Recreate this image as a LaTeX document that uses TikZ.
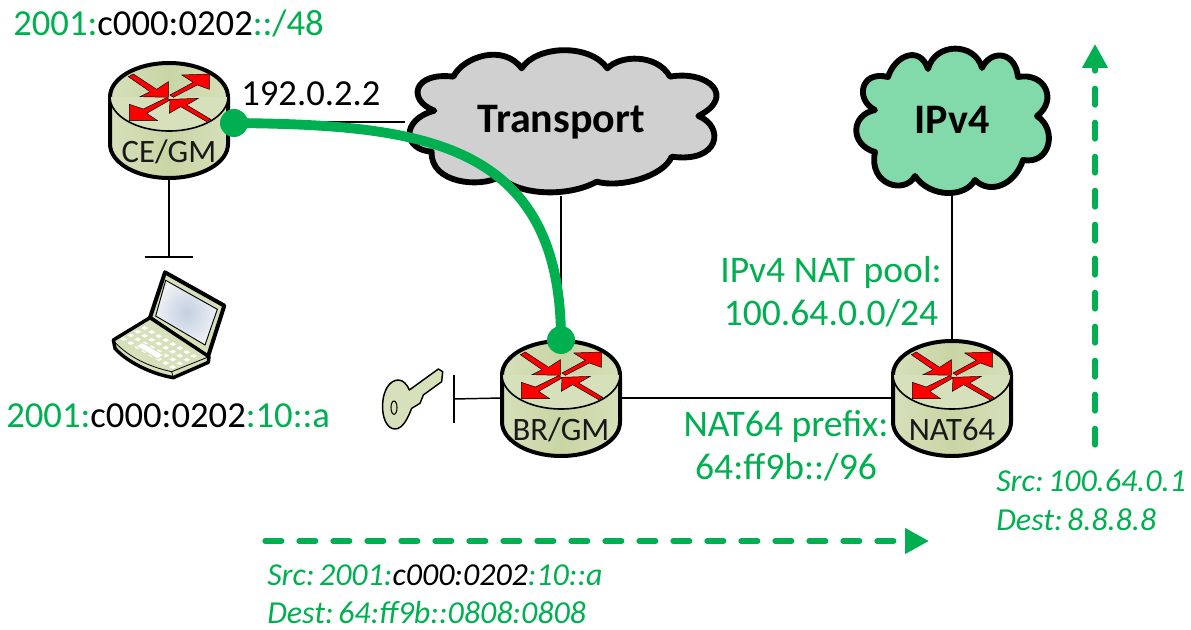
\documentclass[tikz,border=0pt]{standalone}
\usepackage{fontspec}
\setmainfont{Carlito}
\usetikzlibrary{arrows.meta}
\definecolor{grn}{HTML}{00B050}
\definecolor{cloudgray}{HTML}{D0D0D0}
\definecolor{cloudgrn}{HTML}{82D9A9}
\definecolor{olive}{HTML}{D6E0BA}
\definecolor{olivemid}{HTML}{C8D5A4}
\definecolor{rtred}{HTML}{FF0000}
\definecolor{scrin}{HTML}{C3CFE0}
\definecolor{scrout}{HTML}{EEF0F5}
\newcommand{\nsp}{\hspace{.14em}}
\tikzset{
  rtbody/.style={draw=black,line width=3pt,line join=round,left color=olive,right color=olive,middle color=olivemid},
  rttop/.style={draw=black,line width=1.2pt,fill=olive},
  rtarrow/.style={draw=black,line width=.35pt,fill=rtred,line join=miter},
  cloudline/.style={draw=black,line width=4.4pt,line join=round},
  rtbox/.style={minimum width=88.5pt,minimum height=87pt,inner sep=0pt},
  rtlabel/.style={inner sep=0pt,font=\fontsize{24.5}{28}\selectfont,text=black!90},
  cloudlabel/.style={inner sep=0pt,font=\fontsize{31.5}{36}\selectfont\bfseries},
  wire/.style={draw=black,line width=1.1pt},
  green text/.style={inner sep=0pt,text=grn,font=\fontsize{27.5}{32.3}\selectfont},
  green big/.style={inner sep=0pt,text=grn,font=\fontsize{28.2}{32.3}\selectfont},
  green note/.style={inner sep=0pt,text=grn,align=left,font=\fontsize{24}{28.6}\selectfont\itshape},
  tunnel/.style={draw=grn,line width=7.4pt},
  tunneldot/.style={circle,fill=grn,inner sep=0pt,minimum size=21pt},
  flow/.style={draw=grn,line width=4pt,line cap=round,dash pattern=on 12.5pt off 13pt,-{Triangle[length=18pt,width=18.5pt]}},
  hw/.style={draw=black,line width=1.1pt,fill=olive,line join=round},
}
\newcommand{\rtrbody}[2]{%
\begin{scope}[shift={(#1,#2)},x=.25pt,y=-.25pt,shift={(-237,-141)}]
\path[rtbody] (60,141) -- (60,282) .. controls (60,338) and (139,384) .. (237,384) .. controls (335,384) and (414,338) .. (414,282) -- (414,141) .. controls (414,85) and (335,39) .. (237,39) .. controls (139,39) and (60,85) .. (60,141) -- cycle;
\path[rttop] (60,141) .. controls (60,197) and (139,243) .. (237,243) .. controls (335,243) and (414,197) .. (414,141);
\path[rtarrow] (115,80) -- (130,72) -- (200,118) -- (235,95) -- (235,142) -- (150,140) -- (180,125) -- cycle;
\path[rtarrow] (358,72) -- (275,75) -- (310,97) -- (240,135) -- (250,142) -- (322,105) -- (358,118) -- cycle;
\path[rtarrow] (118,212) -- (118,163) -- (160,177) -- (230,143) -- (240,150) -- (170,190) -- (203,212) -- cycle;
\path[rtarrow] (240,148) -- (325,145) -- (290,165) -- (362,208) -- (350,215) -- (272,170) -- (238,190) -- cycle;
\end{scope}}
\begin{document}
\begin{tikzpicture}[x=.75pt,y=-.75pt]
\useasboundingbox (0,0) rectangle (1191,630);
% transport cloud
\begin{scope}[shift={(400,40)},x=.25pt,y=-.25pt]
\path[cloudline,fill=cloudgray] (103,212) .. controls (20,180) and (40,95) .. (160,110)
 .. controls (190,50) and (310,10) .. (365,85)
 .. controls (410,15) and (570,10) .. (622,85)
 .. controls (660,45) and (770,40) .. (810,110)
 .. controls (925,90) and (1010,170) .. (895,228)
 .. controls (975,260) and (960,370) .. (815,350)
 .. controls (790,410) and (660,445) .. (590,425)
 .. controls (510,470) and (360,470) .. (300,410)
 .. controls (240,445) and (90,430) .. (95,335)
 .. controls (10,330) and (0,240) .. (103,212) -- cycle;
\end{scope}
% ipv4 cloud
\path[cloudline,fill=cloudgrn] (875,110) .. controls (855,100) and (860,70) .. (888,77)
 .. controls (895,55) and (920,45) .. (928,69)
 .. controls (935,42) and (975,42) .. (982,68)
 .. controls (990,50) and (1015,50) .. (1018,77)
 .. controls (1045,72) and (1058,100) .. (1037,116)
 .. controls (1058,130) and (1050,165) .. (1023,160)
 .. controls (1015,185) and (990,195) .. (975,180)
 .. controls (965,198) and (930,198) .. (915,176)
 .. controls (905,195) and (868,185) .. (875,152)
 .. controls (850,145) and (850,115) .. (875,110) -- cycle;
% routers
\rtrbody{169}{97}
\rtrbody{561}{375}
\rtrbody{952}{375}
% laptop
\begin{scope}[shift={(105,265)},x=.25pt,y=-.25pt]
\path[draw=black,line width=3pt,line join=round,fill=olive] (180,22) -- (358,122) -- (308,278) -- (135,158) -- cycle;
\path[draw=black,line width=.7pt,inner color=scrin,outer color=scrout] (182,46) -- (337,133) -- (300,240) -- (152,153) -- cycle;
\path[draw=black,line width=2.6pt,line join=round,fill=olive] (25,225) -- (135,158) -- (312,275) -- (310,292) -- (205,338) .. controls (130,325) and (60,285) .. (30,250) -- cycle;
\path[draw=black,line width=.6pt] (30,232) .. controls (70,275) and (130,305) .. (200,320) -- (312,275);
\path[draw=black,line width=.6pt] (200,320) -- (205,338);
\foreach \r in {0,1,2,3}{\foreach \c in {0,...,7}{
  \path[fill=white] ({46+\c*21+\r*21},{222+\c*12-\r*11}) -- ++(10,-5.5) -- ++(10.5,6) -- ++(-10,5.5) -- cycle;
}}
\path[fill=olive] (92,243) -- (112,232) -- (180,270) -- (158,284) -- cycle;
\path[fill=white] (97,243) -- (112,235) -- (173,270) -- (158,280) -- cycle;
\end{scope}
% key
\begin{scope}[shift={(370,320)},x=.25pt,y=-.25pt]
\path[hw] (205,147) -- (218,155) -- (215,185) -- (160,225) -- (150,250) -- (125,265) .. controls (115,290) and (100,327) .. (75,327) .. controls (50,327) and (35,290) .. (38,250) .. controls (40,210) and (60,180) .. (85,180) .. controls (100,180) and (112,195) .. (118,210) -- cycle;
\path[draw=black,line width=.8pt] (72,263) ellipse [x radius=9,y radius=20];
\end{scope}
% named nodes
\node[rtbox] (ce) at (169,120) {};
\node[rtbox] (br) at (561,398) {};
\node[rtbox] (nat) at (952,398) {};
\node[rtlabel] (celabel) at (169,152) {CE/GM};
\node[rtlabel] (brlabel) at (561,430) {BR/GM};
\node[rtlabel] (natlabel) at (952,430) {NAT64};
\node[cloudlabel,minimum width=234pt,minimum height=111pt] (transport) at (561,122) {Transport};
\node[cloudlabel,minimum width=142pt,minimum height=108pt] (ipv4) at (952,120) {IPv4};
\node[minimum width=36pt,minimum height=1pt,inner sep=0pt] (lapbar) at (169,257) {};
\node[minimum width=1pt,minimum height=36pt,inner sep=0pt] (keybar) at (454,399) {};
% wires
\path[wire] (ce.east |- transport.west) -- (transport.west);
\path[wire] (ce.south) -- (lapbar.center);
\path[wire] (lapbar.west) -- (lapbar.east);
\path[wire] (transport.south) -- (br.north);
\path[wire] (ipv4.south) -- (nat.north);
\path[wire] (br.east) -- (nat.west);
\path[wire] (keybar.center) -- (br.west);
\path[wire] (keybar.north) -- (keybar.south);
% tunnel
\node[tunneldot] (dotce) at (234,123) {};
\node[tunneldot] (dotbr) at (561,340) {};
\path[tunnel] (dotce.center) .. controls (420,125) and (561,140) .. (dotbr.center);
% flows
\coordinate (ha) at (265,541);
\coordinate (hb) at (929,541);
\coordinate (va) at (1095,445);
\coordinate (vb) at (1095,44);
\path[flow] (ha) -- (hb);
\path[flow] (va) -- (vb);
% texts
\node[green text,anchor=west] (t1) at (13,24) {2001:\textcolor{black}{c000:0202}::/48};
\node[green text,anchor=west] (t2) at (6,416) {2001:\textcolor{black}{c000:0202}:10::a};
\node[green text,text=black,anchor=west] (t3) at (241,94) {192.0.2.2};
\node[green big,align=center] (t4) at (831,292) {IPv4 NAT pool:\\100.64.0.0/24};
\node[green big,align=center] (t5) at (786,446) {NAT64 prefix:\\64:ff9b::/96};
\node[green note,anchor=north west] (t6) at (267,564) {Src:\nsp 2001:\textcolor{black}{c000:0202}:10::a\\Dest:\nsp 64:ff9b::0808:0808};
\node[green note,anchor=north west] (t7) at (996,470) {Src:\nsp 100.64.0.1\\Dest:\nsp 8.8.8.8};
\end{tikzpicture}
\end{document}
